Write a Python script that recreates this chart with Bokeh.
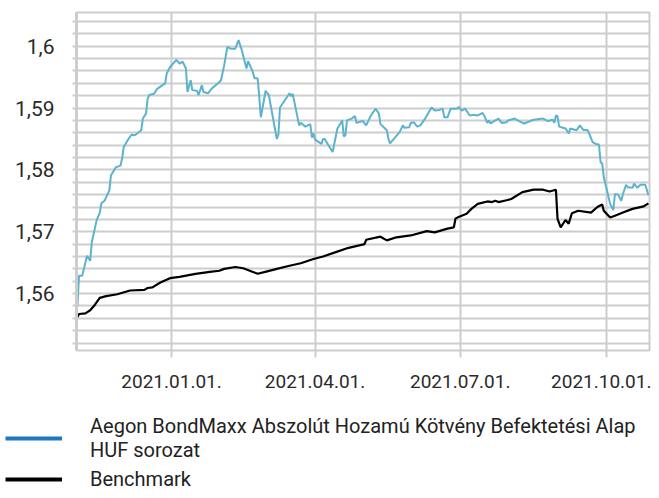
import pandas as pd
from bokeh.plotting import figure
from bokeh.layouts import column
from bokeh.models import (FixedTicker, CustomJSTickFormatter, Legend, LegendItem,
                          Range1d, ColumnDataSource)
from bokeh.embed import file_html
from bokeh.resources import INLINE

fund_dates = [
    "2020-11-03", "2020-11-04", "2020-11-06", "2020-11-09", "2020-11-11", "2020-11-12",
    "2020-11-15", "2020-11-17", "2020-11-18", "2020-11-20", "2020-11-23", "2020-11-24",
    "2020-11-27", "2020-11-30", "2020-12-01", "2020-12-02", "2020-12-05", "2020-12-07",
    "2020-12-09", "2020-12-13", "2020-12-14", "2020-12-16", "2020-12-17", "2020-12-18",
    "2020-12-21", "2020-12-23", "2020-12-28", "2020-12-29", "2020-12-31", "2021-01-04",
    "2021-01-06", "2021-01-08", "2021-01-10", "2021-01-11", "2021-01-13", "2021-01-14",
    "2021-01-17", "2021-01-18", "2021-01-20", "2021-01-21", "2021-01-24", "2021-01-26",
    "2021-01-31", "2021-02-01", "2021-02-03", "2021-02-05", "2021-02-07", "2021-02-10",
    "2021-02-12", "2021-02-14", "2021-02-17", "2021-02-18", "2021-02-21", "2021-02-22",
    "2021-02-24", "2021-02-25", "2021-02-26", "2021-03-01", "2021-03-03", "2021-03-08",
    "2021-03-09", "2021-03-10", "2021-03-16", "2021-03-17", "2021-03-18", "2021-03-22",
    "2021-03-23", "2021-03-26", "2021-03-29", "2021-03-30", "2021-03-31", "2021-04-01",
    "2021-04-05", "2021-04-06", "2021-04-07", "2021-04-12", "2021-04-15", "2021-04-18",
    "2021-04-19", "2021-04-20", "2021-04-21", "2021-04-24", "2021-04-26", "2021-04-27",
    "2021-05-01", "2021-05-03", "2021-05-06", "2021-05-09", "2021-05-11", "2021-05-12",
    "2021-05-14", "2021-05-16", "2021-05-17", "2021-05-18", "2021-05-24", "2021-05-26",
    "2021-05-27", "2021-05-30", "2021-05-31", "2021-06-02", "2021-06-04", "2021-06-06",
    "2021-06-09", "2021-06-13", "2021-06-15", "2021-06-18", "2021-06-20", "2021-06-21",
    "2021-06-23", "2021-06-25", "2021-06-29", "2021-06-30", "2021-07-02", "2021-07-04",
    "2021-07-07", "2021-07-09", "2021-07-12", "2021-07-15", "2021-07-16", "2021-07-18",
    "2021-07-19", "2021-07-20", "2021-07-23", "2021-07-25", "2021-07-27", "2021-07-30",
    "2021-07-31", "2021-08-04", "2021-08-10", "2021-08-16", "2021-08-22", "2021-08-25",
    "2021-08-28", "2021-08-29", "2021-08-30", "2021-08-31", "2021-09-01", "2021-09-05",
    "2021-09-07", "2021-09-08", "2021-09-12", "2021-09-14", "2021-09-16", "2021-09-19",
    "2021-09-22", "2021-09-24", "2021-09-26", "2021-09-27", "2021-09-28", "2021-09-29",
    "2021-10-01", "2021-10-03", "2021-10-05", "2021-10-06", "2021-10-08", "2021-10-10",
    "2021-10-11", "2021-10-13", "2021-10-14", "2021-10-17", "2021-10-18", "2021-10-20",
    "2021-10-22", "2021-10-25", "2021-10-27",
]
fund_values = [
    1.5580, 1.5629, 1.5629, 1.5661, 1.5653, 1.5683,
    1.5718, 1.5731, 1.5746, 1.5750, 1.5767, 1.5791,
    1.5804, 1.5807, 1.5818, 1.5837, 1.5850, 1.5857,
    1.5856, 1.5864, 1.5883, 1.5891, 1.5915, 1.5921,
    1.5923, 1.5931, 1.5940, 1.5956, 1.5966, 1.5978,
    1.5972, 1.5975, 1.5964, 1.5926, 1.5945, 1.5929,
    1.5928, 1.5921, 1.5937, 1.5926, 1.5924, 1.5931,
    1.5942, 1.5945, 1.5969, 1.5999, 1.5996, 1.5996,
    1.6010, 1.5994, 1.5964, 1.5976, 1.5958, 1.5948,
    1.5948, 1.5918, 1.5885, 1.5928, 1.5921, 1.5850,
    1.5857, 1.5901, 1.5924, 1.5919, 1.5923, 1.5872,
    1.5876, 1.5870, 1.5874, 1.5852, 1.5859, 1.5849,
    1.5842, 1.5850, 1.5850, 1.5829, 1.5867, 1.5880,
    1.5854, 1.5856, 1.5880, 1.5883, 1.5887, 1.5876,
    1.5879, 1.5872, 1.5888, 1.5899, 1.5891, 1.5874,
    1.5869, 1.5864, 1.5850, 1.5843, 1.5861, 1.5872,
    1.5868, 1.5869, 1.5876, 1.5877, 1.5870, 1.5872,
    1.5883, 1.5901, 1.5896, 1.5897, 1.5899, 1.5885,
    1.5885, 1.5899, 1.5899, 1.5902, 1.5896, 1.5899,
    1.5888, 1.5889, 1.5888, 1.5892, 1.5888, 1.5876,
    1.5880, 1.5875, 1.5880, 1.5883, 1.5876, 1.5877,
    1.5880, 1.5883, 1.5875, 1.5881, 1.5883, 1.5879,
    1.5881, 1.5876, 1.5888, 1.5887, 1.5870, 1.5867,
    1.5859, 1.5867, 1.5864, 1.5872, 1.5865, 1.5864,
    1.5845, 1.5842, 1.5841, 1.5812, 1.5811, 1.5788,
    1.5767, 1.5745, 1.5735, 1.5761, 1.5760, 1.5750,
    1.5761, 1.5776, 1.5772, 1.5771, 1.5778, 1.5771,
    1.5776, 1.5776, 1.5759,
]

bench_dates = [
    "2020-11-03", "2020-11-04", "2020-11-08", "2020-11-11", "2020-11-14", "2020-11-17",
    "2020-11-21", "2020-11-28", "2020-12-06", "2020-12-15", "2020-12-17", "2020-12-20",
    "2020-12-25", "2020-12-31", "2021-01-06", "2021-01-16", "2021-01-25", "2021-01-31",
    "2021-02-03", "2021-02-10", "2021-02-15", "2021-02-19", "2021-02-24", "2021-03-02",
    "2021-03-08", "2021-03-16", "2021-03-23", "2021-03-31", "2021-04-06", "2021-04-14",
    "2021-04-22", "2021-05-02", "2021-05-03", "2021-05-12", "2021-05-16", "2021-05-22",
    "2021-05-31", "2021-06-10", "2021-06-15", "2021-06-23", "2021-06-27", "2021-06-28",
    "2021-06-30", "2021-07-05", "2021-07-08", "2021-07-12", "2021-07-18", "2021-07-21",
    "2021-07-23", "2021-07-25", "2021-07-30", "2021-08-02", "2021-08-09", "2021-08-16",
    "2021-08-22", "2021-08-26", "2021-08-30", "2021-08-31", "2021-09-02", "2021-09-05",
    "2021-09-07", "2021-09-09", "2021-09-13", "2021-09-21", "2021-09-25", "2021-09-28",
    "2021-09-29", "2021-10-03", "2021-10-06", "2021-10-11", "2021-10-17", "2021-10-24",
    "2021-10-27",
]
bench_values = [
    1.5562, 1.5567, 1.5568, 1.5573, 1.5582, 1.5593,
    1.5596, 1.5599, 1.5605, 1.5606, 1.5609, 1.5610,
    1.5618, 1.5625, 1.5627, 1.5632, 1.5635, 1.5637,
    1.5640, 1.5643, 1.5641, 1.5637, 1.5632, 1.5636,
    1.5640, 1.5645, 1.5649, 1.5656, 1.5660, 1.5667,
    1.5674, 1.5680, 1.5687, 1.5692, 1.5686, 1.5691,
    1.5694, 1.5701, 1.5699, 1.5705, 1.5707, 1.5721,
    1.5724, 1.5729, 1.5737, 1.5745, 1.5749, 1.5748,
    1.5750, 1.5748, 1.5751, 1.5753, 1.5764, 1.5768,
    1.5768, 1.5765, 1.5768, 1.5721, 1.5707, 1.5719,
    1.5713, 1.5730, 1.5734, 1.5731, 1.5740, 1.5744,
    1.5734, 1.5723, 1.5726, 1.5731, 1.5737, 1.5741,
    1.5746,
]

x_tick_dates = ["2021-01-01", "2021-04-01", "2021-07-01", "2021-10-01"]
y_major_ticks = [1.56, 1.57, 1.58, 1.59, 1.60]
y_minor_ticks = [1.552, 1.554, 1.556, 1.558, 1.562, 1.564, 1.566, 1.568,
                 1.572, 1.574, 1.576, 1.578, 1.582, 1.584, 1.586, 1.588,
                 1.592, 1.594, 1.596, 1.598, 1.602, 1.604]
fund_label = "Aegon BondMaxx Abszolút Hozamú Kötvény Befektetési Alap\nHUF sorozat"
bench_label = "Benchmark"

FONT = "Roboto"
GRID = "#cdcdcd"

fund_src = ColumnDataSource(dict(x=pd.to_datetime(fund_dates), y=fund_values))
bench_src = ColumnDataSource(dict(x=pd.to_datetime(bench_dates), y=bench_values))

p = figure(width=651, height=400, output_backend="svg", toolbar_location=None,
           x_axis_type="datetime",
           x_range=Range1d(pd.Timestamp("2020-11-02 10:00"), pd.Timestamp("2021-10-27 16:00")),
           y_range=Range1d(1.5508, 1.60545),
           min_border_left=76, min_border_right=2, min_border_top=12, min_border_bottom=50)
p.frame_align = False

p.background_fill_color = "white"
p.border_fill_color = "white"
p.outline_line_color = GRID
p.outline_line_width = 2

# grids
p.xgrid.grid_line_color = GRID
p.xgrid.grid_line_width = 2
p.ygrid.grid_line_color = GRID
p.ygrid.grid_line_width = 2
p.ygrid.minor_grid_line_color = GRID
p.ygrid.minor_grid_line_width = 2

# x axis
p.xaxis.ticker = FixedTicker(ticks=[pd.Timestamp(d).value / 1e6 for d in x_tick_dates],
                             minor_ticks=[])
p.xaxis.formatter = CustomJSTickFormatter(code="""
const d = new Date(tick);
const m = String(d.getUTCMonth() + 1).padStart(2, '0');
const dd = String(d.getUTCDate()).padStart(2, '0');
return d.getUTCFullYear() + '.' + m + '.' + dd + '.';
""")
p.xaxis.axis_line_color = None
p.xaxis.major_tick_line_color = GRID
p.xaxis.major_tick_line_width = 2
p.xaxis.major_tick_out = 7
p.xaxis.major_tick_in = 0
p.xaxis.minor_tick_line_color = None
p.xaxis.major_label_standoff = 17
p.xaxis.major_label_text_font = FONT
p.xaxis.major_label_text_font_size = "19px"
p.xaxis.major_label_text_color = "#2a2a2a"

# y axis
p.yaxis.ticker = FixedTicker(ticks=y_major_ticks, minor_ticks=y_minor_ticks)
p.yaxis.formatter = CustomJSTickFormatter(code="""
let s = tick.toFixed(2);
if (s.endsWith('0')) { s = s.slice(0, -1); }
return s.replace('.', ',');
""")
p.yaxis.axis_line_color = GRID
p.yaxis.axis_line_width = 3
p.yaxis.major_tick_line_color = GRID
p.yaxis.major_tick_line_width = 2
p.yaxis.major_tick_out = 4
p.yaxis.major_tick_in = 0
p.yaxis.minor_tick_line_color = GRID
p.yaxis.minor_tick_line_width = 2
p.yaxis.minor_tick_out = 4
p.yaxis.minor_tick_in = 0
p.yaxis.major_label_standoff = 18
p.yaxis.major_label_text_font = FONT
p.yaxis.major_label_text_font_size = "21px"
p.yaxis.major_label_text_color = "#2a2a2a"

# data lines
p.line("x", "y", source=fund_src, line_color="#5cb3cc", line_width=2)
p.line("x", "y", source=bench_src, line_color="#000000", line_width=2.2)

# ---- legend panel (separate figure below the chart) ----
lg = figure(width=651, height=90, output_backend="svg", toolbar_location=None,
            x_axis_type=None, y_axis_type=None, x_range=Range1d(0, 1), y_range=Range1d(0, 1),
            min_border_left=0, min_border_right=0, min_border_top=0, min_border_bottom=0)
lg.frame_align = False
lg.outline_line_color = None
lg.xgrid.visible = False
lg.ygrid.visible = False
# legend sample renderers share the series data; they lie outside this panel's view,
# so only their legend samples (thicker, darker styles) are seen
leg_fund = lg.line("x", "y", source=fund_src, line_color="#1f78c1", line_width=4)
leg_bench = lg.line("x", "y", source=bench_src, line_color="#000000", line_width=4)

common = dict(padding=0, margin=0, border_line_color=None, background_fill_alpha=0,
              label_text_font=FONT, label_text_font_size="20px",
              label_text_color="#222222", glyph_width=57, label_standoff=28,
              spacing=0)
legend1 = Legend(items=[LegendItem(label=fund_label, renderers=[leg_fund])],
                 location=(5, 28), glyph_height=48, **common)
legend2 = Legend(items=[LegendItem(label=bench_label, renderers=[leg_bench])],
                 location=(5, -1), glyph_height=24, **common)
lg.add_layout(legend1)
lg.add_layout(legend2)

layout = column(p, lg, spacing=0)
open("out.html", "w").write(file_html(layout, INLINE))
